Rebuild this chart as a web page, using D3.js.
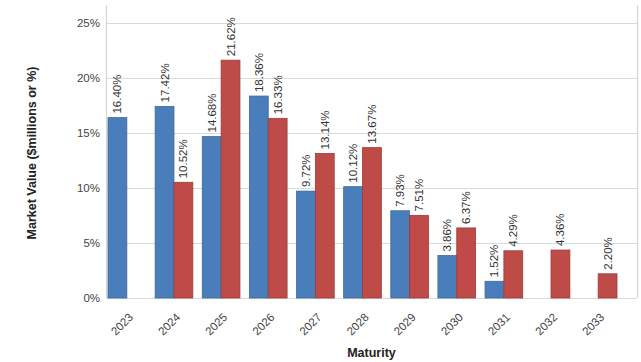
<!DOCTYPE html>
<html>
<head>
<meta charset="utf-8">
<script src="https://cdn.jsdelivr.net/npm/d3@7/dist/d3.min.js"></script>
<style>
  html, body { margin: 0; padding: 0; background: #fff; }
  svg { display: block; font-family: "Liberation Sans", Arial, sans-serif; }
</style>
</head>
<body>
<svg id="chart" width="641" height="362"></svg>
<script>
// Maturity years and the two series (percent of market value)
const maturities = ["2023", "2024", "2025", "2026", "2027", "2028", "2029", "2030", "2031", "2032", "2033"];
const seriesA = [16.40, 17.42, 14.68, 18.36, 9.72, 10.12, 7.93, 3.86, 1.52, null, null];
const seriesB = [null, 10.52, 21.62, 16.33, 13.14, 13.67, 7.51, 6.37, 4.29, 4.36, 2.20];
const yTicks = [0, 5, 10, 15, 20, 25];

const seriesList = [
  { key: "a", values: seriesA, fill: "#4a7ebb", stroke: "#3d6aa0" },
  { key: "b", values: seriesB, fill: "#be4b48", stroke: "#9e3b38" }
];

const svg = d3.select("#chart");
const plot = { left: 106, right: 637, top: 5, bottom: 298 };

const y = d3.scaleLinear().domain([0, 25]).range([plot.bottom, 23]);
const x = d3.scaleBand().domain(maturities).range([108, 617]).paddingInner(0.2).paddingOuter(0);
const xSub = d3.scaleBand().domain(seriesList.map(s => s.key)).range([0, x.bandwidth()]);

// horizontal gridlines
svg.append("g")
  .selectAll("line")
  .data(yTicks)
  .join("line")
  .attr("x1", plot.left).attr("x2", plot.right)
  .attr("y1", d => Math.round(y(d)) + 0.5).attr("y2", d => Math.round(y(d)) + 0.5)
  .attr("stroke", "#d9d9d9").attr("stroke-width", 1.2);

// plot frame sides
svg.append("line")
  .attr("x1", plot.left + 0.5).attr("x2", plot.left + 0.5)
  .attr("y1", plot.top).attr("y2", plot.bottom)
  .attr("stroke", "#d4d4d4").attr("stroke-width", 1.2);
svg.append("line")
  .attr("x1", plot.right + 0.5).attr("x2", plot.right + 0.5)
  .attr("y1", plot.top).attr("y2", plot.bottom)
  .attr("stroke", "#d4d4d4").attr("stroke-width", 1.2);

// y axis labels
const yAxis = d3.axisLeft(y).tickValues(yTicks).tickFormat(d => d + "%").tickSize(0).tickPadding(6);
const gy = svg.append("g").attr("transform", `translate(${plot.left},0)`).call(yAxis);
gy.select(".domain").remove();
gy.selectAll("text").attr("font-size", 11.5).attr("fill", "#444").attr("font-family", "Liberation Sans, Arial, sans-serif");

// x axis labels, rotated
const xAxis = d3.axisBottom(x).tickSize(0).tickPadding(0);
const gx = svg.append("g").attr("transform", `translate(0,${plot.bottom})`).call(xAxis);
gx.select(".domain").remove();
gx.selectAll("text")
  .attr("font-size", 11.5).attr("fill", "#444")
  .attr("font-family", "Liberation Sans, Arial, sans-serif")
  .attr("text-anchor", "end")
  .attr("dy", null).attr("y", 0)
  .attr("transform", "translate(7,20) rotate(-45)");

// bars
const groups = svg.append("g")
  .selectAll("g")
  .data(maturities)
  .join("g")
  .attr("transform", d => `translate(${x(d)},0)`);

groups.selectAll("rect")
  .data((d, i) => seriesList.map(s => ({ s, v: s.values[i] })).filter(o => o.v != null))
  .join("rect")
  .attr("x", o => xSub(o.s.key))
  .attr("width", xSub.bandwidth())
  .attr("y", o => y(o.v))
  .attr("height", o => y(0) - y(o.v))
  .attr("fill", o => o.s.fill)
  .attr("stroke", o => o.s.stroke)
  .attr("stroke-width", 0.8);

// value labels above bars, rotated vertically
groups.selectAll("text.val")
  .data((d, i) => seriesList.map(s => ({ s, v: s.values[i] })).filter(o => o.v != null))
  .join("text")
  .attr("class", "val")
  .attr("transform", o => `translate(${xSub(o.s.key) + xSub.bandwidth() / 2 + 4},${y(o.v) - 4}) rotate(-90)`)
  .attr("text-anchor", "start")
  .attr("font-size", 11.5)
  .attr("fill", "#333")
  .text(o => o.v.toFixed(2) + "%");

// axis titles
svg.append("text")
  .attr("transform", "translate(36,153) rotate(-90)")
  .attr("text-anchor", "middle")
  .attr("font-size", 12.5).attr("font-weight", "bold").attr("fill", "#222")
  .text("Market Value ($millions or %)");

svg.append("text")
  .attr("x", (plot.left + plot.right) / 2).attr("y", 357)
  .attr("text-anchor", "middle")
  .attr("font-size", 12.5).attr("font-weight", "bold").attr("fill", "#222")
  .text("Maturity");
</script>
</body>
</html>
